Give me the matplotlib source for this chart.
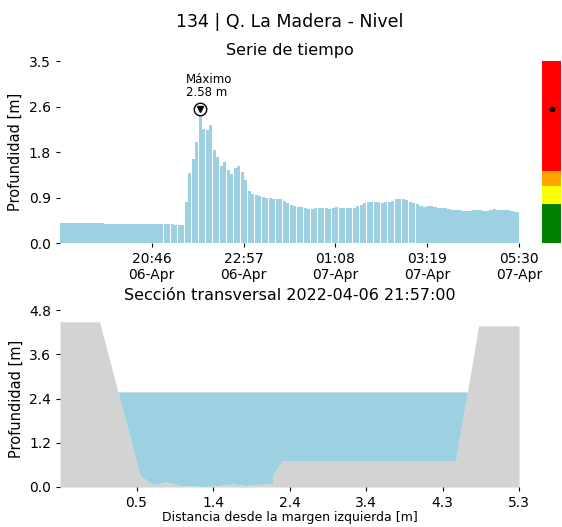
import matplotlib
matplotlib.use("Agg")
import matplotlib.pyplot as plt
import matplotlib.dates as mdates
import numpy as np
import pandas as pd

# ---------------- data ----------------
start_time = "2022-04-06 18:35"
end_time = "2022-04-07 05:30"
step_minutes = 5
depth_series = [
    0.38, 0.38, 0.38, 0.38, 0.38, 0.38, 0.38, 0.38, 0.38, 0.38,
    0.38, 0.38, 0.38, 0.37, 0.37, 0.37, 0.37, 0.37, 0.37, 0.37,
    0.37, 0.36, 0.36, 0.36, 0.36, 0.36, 0.36, 0.36, 0.36, 0.36,
    0.36, 0.36, 0.36, 0.35, 0.35, 0.35, 0.79, 1.35, 1.62, 1.95,
    2.58, 2.20, 2.18, 2.27, 1.78, 1.66, 1.48, 1.55, 1.40, 1.32,
    1.45, 1.48, 1.36, 1.22, 1.00, 0.95, 0.93, 0.90, 0.88, 0.86,
    0.86, 0.85, 0.84, 0.84, 0.80, 0.77, 0.74, 0.71, 0.70, 0.69,
    0.68, 0.65, 0.66, 0.67, 0.68, 0.68, 0.67, 0.66, 0.67, 0.69,
    0.68, 0.67, 0.68, 0.68, 0.68, 0.71, 0.74, 0.76, 0.79, 0.79,
    0.78, 0.78, 0.77, 0.78, 0.79, 0.81, 0.84, 0.84, 0.84, 0.82,
    0.79, 0.77, 0.75, 0.71, 0.70, 0.71, 0.72, 0.70, 0.67, 0.67,
    0.67, 0.65, 0.63, 0.63, 0.63, 0.62, 0.62, 0.62, 0.63, 0.63,
    0.63, 0.62, 0.62, 0.64, 0.66, 0.64, 0.63, 0.64, 0.64, 0.62,
    0.60, 0.60,
]
time_ticks = ["2022-04-06 20:46", "2022-04-06 22:57", "2022-04-07 01:08",
              "2022-04-07 03:19", "2022-04-07 05:30"]
top_ylim = (0.0, 3.5)
top_yticklabels = ["0.0", "0.9", "1.8", "2.6", "3.5"]

# alert levels (thresholds) for colour bar
level_bounds = [0.0, 0.75, 1.10, 1.38, 3.5]
level_colors = ["#008000", "#FFFF00", "#FFA500", "#FF0000"]

# cross section
section_x = [-0.5, 0.0, 0.51, 0.68, 0.83, 1.02, 1.35, 1.69, 1.86, 2.19, 2.19,
             2.30, 4.50, 4.79, 5.30]
section_y = [4.48, 4.48, 0.31, 0.05, 0.14, 0.04, 0.01, 0.08, 0.04, 0.10, 0.31,
             0.70, 0.70, 4.37, 4.37]
water_level = 2.58
section_xlim = (-0.5, 5.3)
section_ylim = (0.0, 4.8)
section_time = "2022-04-06 21:57:00"

water_color = "#9dd1e1"
ground_color = "#d3d3d3"

# ---------------- figure ----------------
plt.rcParams['font.family'] = ['DejaVu Sans']
fig = plt.figure(figsize=(5.62, 5.27), dpi=100)
fig.suptitle("134 | Q. La Madera - Nivel", fontsize=12.5, x=0.515, y=0.975)

ax1 = fig.add_axes([60/562, 1-243/527, 459/562, 182/527])
axc = fig.add_axes([542/562, 1-243/527, 19/562, 182/527])
ax2 = fig.add_axes([60/562, 1-487/527, 459/562, 177/527])

times = pd.date_range(start_time, end_time, freq=f"{step_minutes}min")
values = np.array(depth_series)
tnum = mdates.date2num(times.to_pydatetime())
width = step_minutes / 1440.0

ax1.bar(tnum, values, width=width*0.92, color=water_color, linewidth=0, align='center')
imax = int(np.argmax(values))
ax1.plot(tnum[imax], values[imax], 'o', ms=9, mfc='white', mec='black', mew=1.0, zorder=5)
ax1.plot(tnum[imax], values[imax], 'v', ms=5, color='black', zorder=6)
ax1.annotate(f"Máximo\n{values[imax]:.2f} m", xy=(tnum[imax], values[imax]),
             xytext=(-10, 7), textcoords='offset points', ha='left', va='bottom',
             fontsize=8.5, linespacing=1.0)
ax1.set_xlim(mdates.date2num(pd.Timestamp(start_time)), mdates.date2num(pd.Timestamp(end_time)))
ax1.set_ylim(*top_ylim)
ax1.set_yticks(np.linspace(top_ylim[0], top_ylim[1], 5))
ax1.set_yticklabels(top_yticklabels)
ax1.set_xticks(mdates.date2num(pd.to_datetime(time_ticks).to_pydatetime()))
ax1.xaxis.set_major_formatter(mdates.DateFormatter('%H:%M\n%d-%b'))
ax1.set_ylabel("Profundidad [m]", fontsize=10.5)
ax1.set_title("Serie de tiempo", fontsize=11.5, pad=4)

# colour bar of alert levels
for lo, hi, c in zip(level_bounds[:-1], level_bounds[1:], level_colors):
    axc.bar(0, hi - lo, bottom=lo, width=1.0, color=c, linewidth=0)
axc.plot(0, values[imax], 'o', color='black', ms=3)
axc.set_xlim(-0.5, 0.5)
axc.set_ylim(*top_ylim)
axc.set_xticks([])
axc.set_yticks([])
for s in axc.spines.values():
    s.set_visible(False)

# cross section
sx = np.array(section_x)
sy = np.array(section_y)
ax2.fill_between(sx, 0, sy, color=ground_color, linewidth=0)
ax2.fill_between(sx, sy, water_level, where=sy < water_level, interpolate=True,
                 color=water_color, linewidth=0)
ax2.set_xlim(*section_xlim)
ax2.set_ylim(*section_ylim)
xt = np.linspace(section_xlim[0], section_xlim[1], 7)[1:]
ax2.set_xticks(xt)
ax2.set_xticklabels([f"{v:.1f}" for v in xt])
ax2.set_yticks(np.linspace(section_ylim[0], section_ylim[1], 5))
ax2.set_yticklabels([f"{v:.1f}" for v in np.linspace(section_ylim[0], section_ylim[1], 5)])
ax2.set_ylabel("Profundidad [m]", fontsize=10.5)
ax2.set_xlabel("Distancia desde la margen izquierda [m]", fontsize=9, labelpad=1)
ax2.set_title(f"Sección transversal {section_time}", fontsize=11.5, pad=7)

for ax in (ax1, ax2):
    for s in ax.spines.values():
        s.set_visible(False)
    ax.tick_params(length=3, width=0.8, labelsize=10)

fig.savefig("out.png", dpi=100)
